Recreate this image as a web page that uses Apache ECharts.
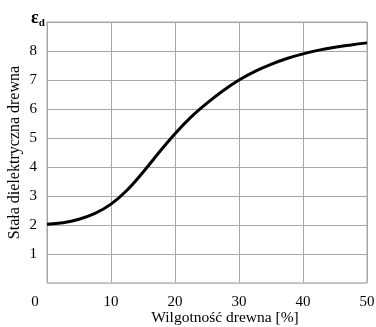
<!DOCTYPE html>
<html>
<head>
<meta charset="utf-8">
<script src="https://cdn.jsdelivr.net/npm/echarts@6/dist/echarts.min.js"></script>
<style>
  html, body { margin: 0; padding: 0; background: #fff; }
  #container { width: 376px; height: 327px; }
</style>
</head>
<body>
<div id="container"></div>
<script>
// moisture content [%]
var moisture = [0, 2.5, 5, 7.5, 10, 12.5, 15, 17.5, 20, 22.5, 25, 27.5, 30, 32.5, 35, 37.5, 40, 42.5, 45, 47.5, 50];
// dielectric constant of wood
var epsilon = [2.03, 2.08, 2.2, 2.4, 2.72, 3.2, 3.82, 4.5, 5.15, 5.72, 6.2, 6.63, 7.0, 7.3, 7.54, 7.74, 7.9, 8.03, 8.13, 8.21, 8.28];

var xTicks = [0, 10, 20, 30, 40, 50];
var yTicks = [1, 2, 3, 4, 5, 6, 7, 8];

var points = moisture.map(function (m, i) { return [m, epsilon[i]]; });

var font = '"Liberation Serif", "DejaVu Serif", serif';

var dom = document.getElementById('container');
var myChart = echarts.init(dom);
var option = {
  animation: false,
  textStyle: { fontFamily: font },
  title: {
    text: '{e|ε}{d|d}',
    left: 26,
    top: 3,
    textStyle: {
      rich: {
        e: { fontFamily: font, fontSize: 18, color: '#000' },
        d: { fontFamily: font, fontSize: 11, color: '#000', padding: [10, 0, 0, 0] }
      }
    }
  },
  grid: {
    left: 47,
    right: 9,
    top: 22,
    bottom: 44,
    outerBoundsMode: 'none',
    show: true,
    borderColor: '#a6a6a6',
    borderWidth: 1
  },
  xAxis: {
    type: 'value',
    min: 0,
    max: 50,
    interval: 10,
    name: 'Wilgotność drewna [%]',
    nameLocation: 'middle',
    nameGap: 27,
    nameMoveOverlap: false,
    nameTextStyle: { fontFamily: font, fontSize: 15.5, color: '#000', padding: [0, 0, 0, 36] },
    axisLine: { show: true, lineStyle: { color: '#c8c8c8', width: 1.5 } },
    axisTick: { show: false },
    axisLabel: {
      fontFamily: font,
      fontSize: 15,
      color: '#000',
      margin: 12,
      formatter: function (v) {
        if (xTicks.indexOf(v) < 0) return '';
        return v === 0 ? '{z|0}' : String(v);
      },
      rich: { z: { fontFamily: font, fontSize: 15, color: '#000', padding: [0, 24, 0, 0] } }
    },
    splitLine: { show: true, lineStyle: { color: '#a6a6a6', width: 1 } }
  },
  yAxis: {
    type: 'value',
    min: 0,
    max: 9,
    interval: 1,
    name: 'Stała dielektryczna drewna',
    nameLocation: 'middle',
    nameGap: 24,
    nameMoveOverlap: false,
    nameTextStyle: { fontFamily: font, fontSize: 16, color: '#000' },
    axisLine: { show: true, lineStyle: { color: '#a6a6a6' } },
    axisTick: { show: false },
    axisLabel: {
      fontFamily: font,
      fontSize: 15,
      color: '#000',
      margin: 10,
      formatter: function (v) {
        return yTicks.indexOf(v) >= 0 ? String(v) : '';
      }
    },
    splitLine: { show: true, lineStyle: { color: '#a6a6a6', width: 1 } }
  },
  series: [{
    type: 'line',
    data: points,
    smooth: 0.4,
    showSymbol: false,
    lineStyle: { color: '#000', width: 3 }
  }]
};
myChart.setOption(option, true);
</script>
</body>
</html>
